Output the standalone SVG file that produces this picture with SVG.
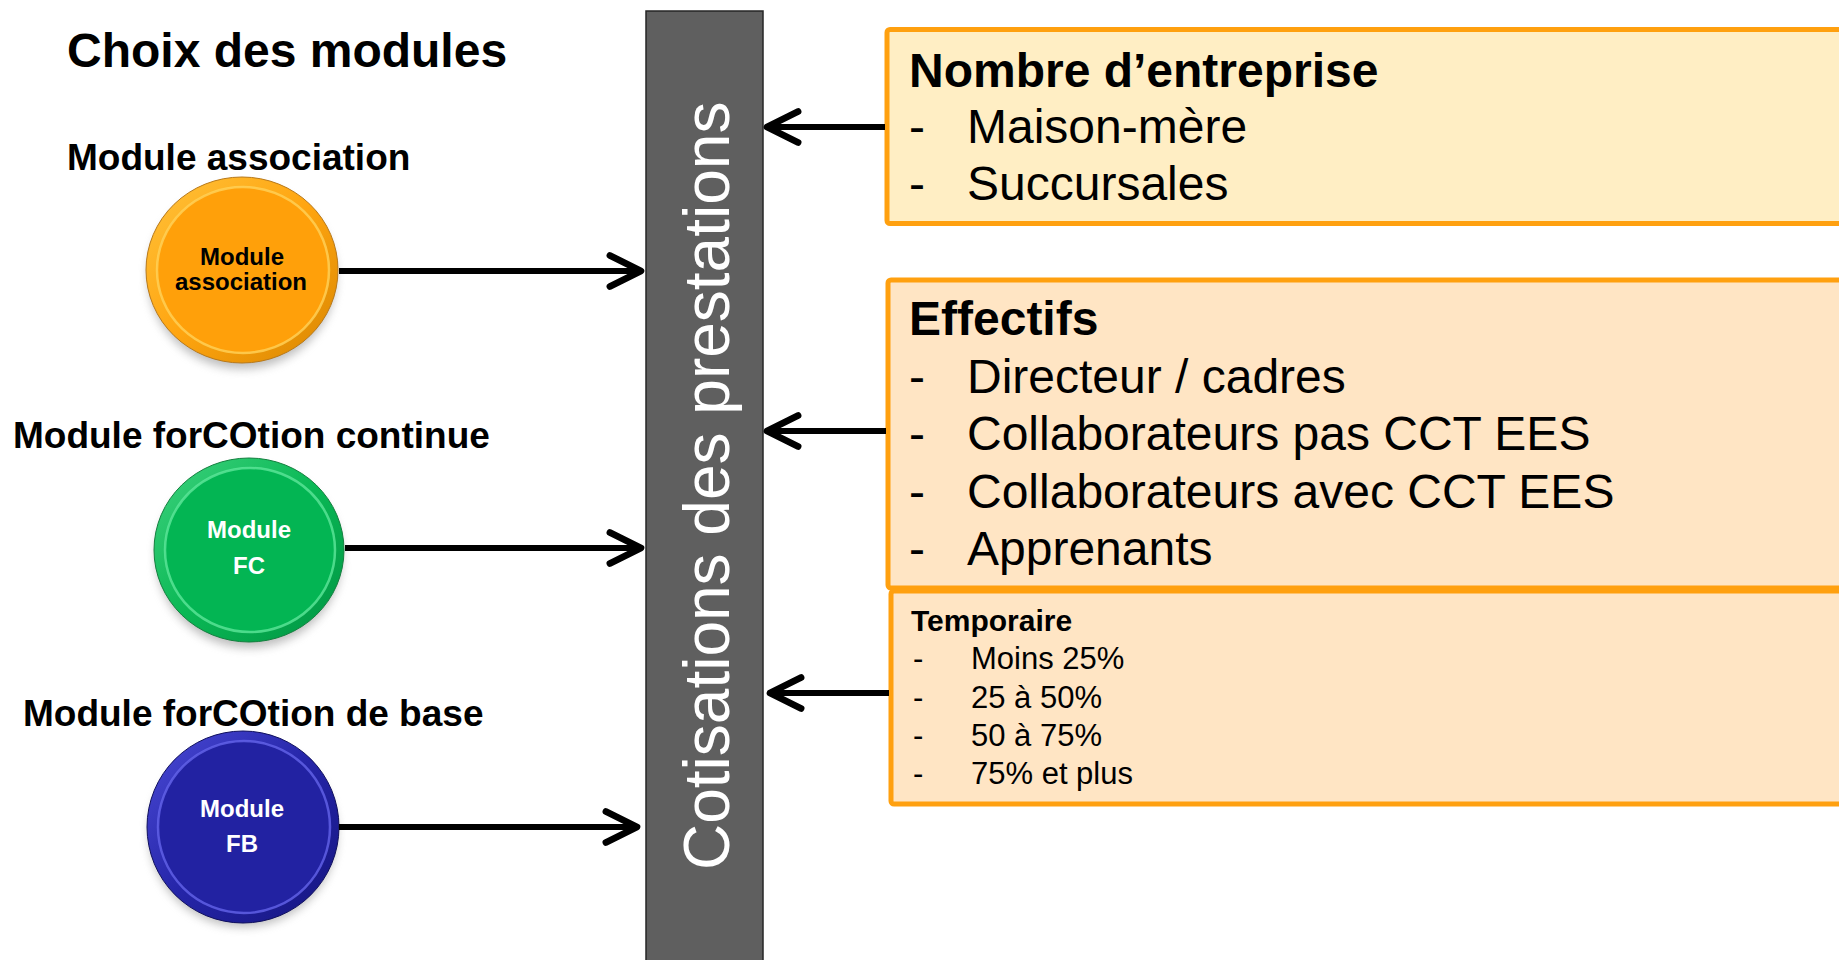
<svg xmlns="http://www.w3.org/2000/svg" width="1839" height="960" viewBox="0 0 1839 960">
<style>
.t{font-family:"Liberation Sans",Arial,sans-serif;fill:#000}
.b{font-weight:bold}
.ttl{font-size:48px;font-weight:bold}
.lbl{font-size:37px;font-weight:bold}
.in{font-size:24px;font-weight:bold;text-anchor:middle}
.big{font-size:48px}
.sm{font-size:31px}
.box{stroke:#FFA00F;stroke-width:5}
.con{stroke:#000;stroke-width:6;fill:none}
</style>
<defs>
<marker id="chev" markerUnits="userSpaceOnUse" markerWidth="50" markerHeight="50" viewBox="-35 -20 45 40" refX="0" refY="0" orient="auto" overflow="visible">
<path d="M-28,-14 L0,0 L-28,14" fill="none" stroke="#000" stroke-width="6" stroke-linecap="round" stroke-linejoin="round"/>
</marker>
<filter id="sh" x="-30%" y="-30%" width="160%" height="160%"><feGaussianBlur stdDeviation="5"/></filter>
<linearGradient id="gO" x1="0" y1="0" x2="1" y2="1"><stop offset="0" stop-color="#FFC23A"/><stop offset="0.5" stop-color="#FFA510"/><stop offset="1" stop-color="#D88600"/></linearGradient>
<linearGradient id="gG" x1="0" y1="0" x2="1" y2="1"><stop offset="0" stop-color="#3ED27E"/><stop offset="0.5" stop-color="#0AB855"/><stop offset="1" stop-color="#009443"/></linearGradient>
<linearGradient id="gB" x1="0" y1="0" x2="1" y2="1"><stop offset="0" stop-color="#4A4AD6"/><stop offset="0.5" stop-color="#2525A8"/><stop offset="1" stop-color="#15157E"/></linearGradient>
</defs>
<rect width="1839" height="960" fill="#fff"/>

<g id="title"><text class="t ttl" x="67" y="67">Choix des modules</text></g>

<g id="bar">
<rect x="646" y="11" width="117" height="960" fill="#5F5F5F" stroke="#262626" stroke-width="1.5"/>
<text class="t" style="fill:#fff;font-size:64px" transform="translate(729,870) rotate(-90)">Cotisations des prestations</text>
</g>

<g id="mod-assoc">
<text class="t lbl" x="67" y="170">Module association</text>
<ellipse cx="242" cy="277" rx="94" ry="92" fill="#888" opacity="0.55" filter="url(#sh)"/>
<ellipse cx="242" cy="270" rx="96" ry="93" fill="url(#gO)" stroke="#B8791A" stroke-width="1"/>
<ellipse cx="243" cy="270" rx="86" ry="83" fill="#FFA00A" stroke="#FFD25A" stroke-width="2.5" stroke-opacity="0.8"/>
<text class="t in" x="242" y="265">Module</text>
<text class="t in" x="241" y="290">association</text>
</g>

<g id="mod-fc">
<text class="t lbl" x="13" y="448">Module forCOtion continue</text>
<ellipse cx="249" cy="557" rx="93" ry="91" fill="#888" opacity="0.55" filter="url(#sh)"/>
<ellipse cx="249" cy="550" rx="95" ry="92" fill="url(#gG)" stroke="#14803F" stroke-width="1"/>
<ellipse cx="250" cy="550" rx="85" ry="82" fill="#03B553" stroke="#5EE69A" stroke-width="2.5" stroke-opacity="0.8"/>
<text class="t in" x="249" y="538" style="fill:#fff">Module</text>
<text class="t in" x="249" y="574" style="fill:#fff">FC</text>
</g>

<g id="mod-fb">
<text class="t lbl" x="23" y="726">Module forCOtion de base</text>
<ellipse cx="243" cy="834" rx="94" ry="93" fill="#888" opacity="0.55" filter="url(#sh)"/>
<ellipse cx="243" cy="827" rx="96" ry="96" fill="url(#gB)" stroke="#10105E" stroke-width="1"/>
<ellipse cx="244" cy="827" rx="86" ry="86" fill="#2222A2" stroke="#6464EA" stroke-width="2.5" stroke-opacity="0.8"/>
<text class="t in" x="242" y="817" style="fill:#fff">Module</text>
<text class="t in" x="242" y="852" style="fill:#fff">FB</text>
</g>

<g id="box-entreprise">
<rect class="box" x="887" y="29.5" width="960" height="194" rx="3" fill="#FFEEC4"/>
<text class="t ttl" x="909" y="87">Nombre d’entreprise</text>
<text class="t big" x="909" y="143">-</text><text class="t big" x="967" y="143">Maison-mère</text>
<text class="t big" x="909" y="200">-</text><text class="t big" x="967" y="200">Succursales</text>
</g>

<g id="box-effectifs">
<rect class="box" x="888" y="280" width="960" height="308" rx="3" fill="#FFE5C4"/>
<text class="t ttl" x="909" y="335">Effectifs</text>
<text class="t big" x="909" y="393">-</text><text class="t big" x="967" y="393">Directeur / cadres</text>
<text class="t big" x="909" y="450">-</text><text class="t big" x="967" y="450">Collaborateurs pas CCT EES</text>
<text class="t big" x="909" y="508">-</text><text class="t big" x="967" y="508">Collaborateurs avec CCT EES</text>
<text class="t big" x="909" y="565">-</text><text class="t big" x="967" y="565">Apprenants</text>
</g>

<g id="box-temporaire">
<rect class="box" x="891" y="591" width="960" height="213" rx="3" fill="#FFE5C4"/>
<text class="t b" style="font-size:30px" x="911" y="631">Temporaire</text>
<text class="t sm" x="913" y="669">-</text><text class="t sm" x="971" y="669">Moins 25%</text>
<text class="t sm" x="913" y="707.5">-</text><text class="t sm" x="971" y="707.5">25 à 50%</text>
<text class="t sm" x="913" y="746">-</text><text class="t sm" x="971" y="746">50 à 75%</text>
<text class="t sm" x="913" y="784">-</text><text class="t sm" x="971" y="784">75% et plus</text>
</g>

<g id="connectors">
<line class="con" x1="339" y1="271" x2="641" y2="271" marker-end="url(#chev)"/>
<line class="con" x1="345" y1="548" x2="641" y2="548" marker-end="url(#chev)"/>
<line class="con" x1="339" y1="827" x2="637" y2="827" marker-end="url(#chev)"/>
<line class="con" x1="885" y1="127" x2="767" y2="127" marker-end="url(#chev)"/>
<line class="con" x1="886" y1="431" x2="767" y2="431" marker-end="url(#chev)"/>
<line class="con" x1="889" y1="693" x2="770" y2="693" marker-end="url(#chev)"/>
</g>
</svg>
